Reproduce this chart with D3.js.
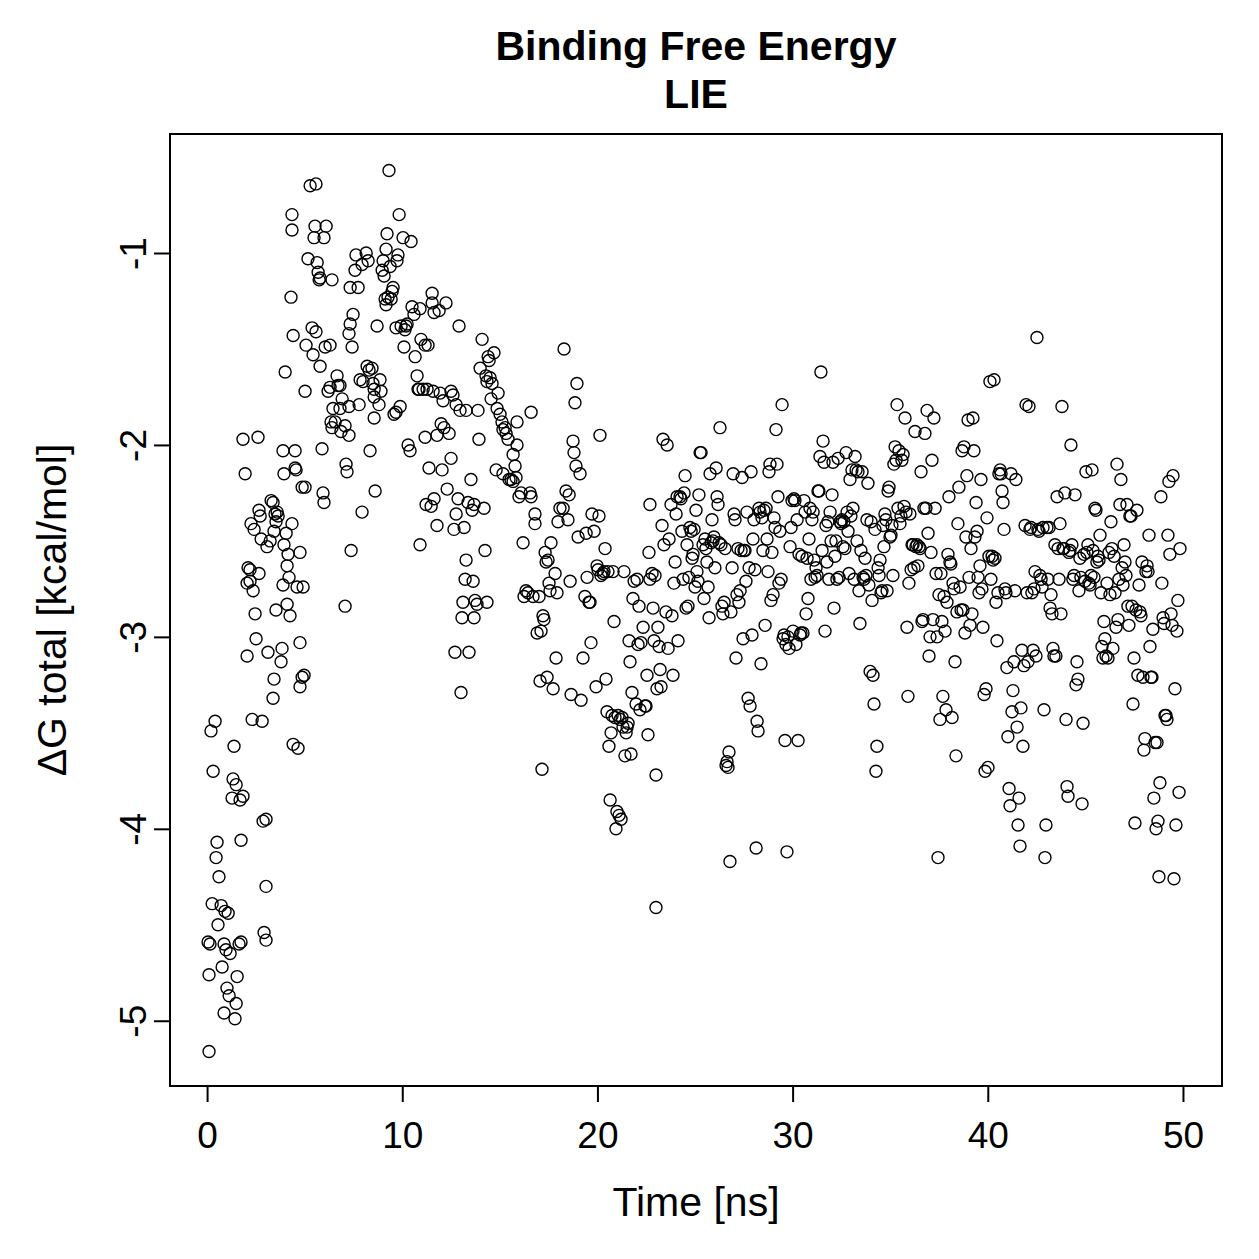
<!DOCTYPE html>
<html>
<head>
<meta charset="utf-8">
<script src="https://cdn.jsdelivr.net/npm/d3@7"></script>
<style>
  body { margin: 0; background: #fff; }
  svg { font-family: "Liberation Sans", Arial, sans-serif; }
</style>
</head>
<body>
<svg id="chart" width="1259" height="1259"></svg>
<script>
// time [ns], dG total [kcal/mol]
const start = [
  [0.05,-4.59],[0.10,-5.16],[0.10,-4.76],[0.15,-4.60],[0.20,-3.49],[0.26,-4.39],[0.31,-3.70],[0.41,-3.44],
  [0.46,-4.15],[0.51,-4.07],[0.56,-4.50],[0.61,-4.25],[0.72,-4.40],[0.77,-4.72],[0.87,-4.60],[0.87,-4.96],
  [0.92,-4.43],[0.97,-4.63],[1.02,-4.83],[1.08,-4.44],[1.13,-4.87],[1.18,-4.65],[1.28,-3.84],[1.33,-3.74],
  [1.38,-3.57],[1.43,-4.99],[1.49,-4.91],[1.49,-3.77],[1.54,-4.77],[1.64,-4.60],[1.69,-3.85],[1.74,-4.59],
  [1.74,-4.06],[1.84,-3.83],[1.84,-1.97],[1.95,-2.15],[2.05,-3.10],[2.05,-2.72],[2.10,-2.64],[2.20,-2.65],
  [2.20,-2.71],[2.25,-2.41],[2.31,-3.43],[2.36,-2.76],[2.41,-2.44],[2.46,-2.88],[2.51,-3.01],[2.61,-1.96],
  [2.66,-2.67],[2.66,-2.34],[2.72,-2.37],[2.77,-2.49],[2.82,-3.44],[2.87,-3.96],[2.92,-4.54],[3.02,-3.95],
  [3.02,-4.58],[3.02,-4.30],[3.07,-2.53],[3.12,-3.08],[3.23,-2.50],[3.28,-2.29],[3.38,-2.30],[3.38,-3.32],
  [3.43,-2.45],[3.43,-3.22],[3.48,-2.36],[3.53,-2.40],[3.53,-2.86],[3.59,-2.35],[3.64,-2.37],[3.79,-3.13],
  [3.84,-3.06],[3.89,-2.73],[3.89,-2.03],[3.94,-2.52],[3.94,-2.15],[4.00,-1.62],[4.05,-2.46],[4.10,-2.63],
  [4.10,-2.83],[4.15,-2.57],[4.20,-2.69],[4.25,-2.89],[4.30,-1.23],[4.35,-2.41],[4.35,-0.80],[4.35,-0.88],
  [4.41,-3.56],[4.41,-1.43],[4.51,-2.12],[4.51,-2.03],[4.56,-2.13],[4.61,-2.74],[4.66,-3.58],[4.76,-3.03],
  [4.76,-3.26],[4.76,-2.56],[4.87,-3.21],[4.87,-2.22],[4.92,-2.74],[4.97,-3.20]
];
const rise = [
  [5.02,-2.22],[5.02,-1.72],[5.07,-1.48],[5.17,-1.03],[5.28,-0.65],[5.38,-1.39],[5.43,-1.53],[5.48,-0.92],
  [5.53,-0.86],[5.58,-0.64],[5.58,-1.41],[5.64,-1.05],[5.69,-1.10],[5.74,-1.14],[5.79,-1.13],[5.79,-1.59],
  [5.89,-2.02],[5.94,-2.25],[5.99,-2.30],[5.99,-0.92],[6.05,-1.49],[6.10,-0.86],[6.20,-1.72],[6.30,-1.48],
  [6.30,-1.70],[6.35,-1.88],[6.40,-1.14],[6.40,-1.91],[6.45,-1.81],[6.56,-1.88],[6.66,-1.64],[6.71,-1.69],
  [6.81,-1.69],[6.81,-1.81],[6.86,-1.93],[6.92,-1.76],[7.07,-2.84],[7.07,-1.90],[7.12,-2.10],[7.17,-2.14],
  [7.27,-1.95],[7.27,-1.42],[7.27,-1.80],[7.33,-1.37],[7.33,-1.18],[7.38,-2.55],[7.43,-1.49],[7.48,-1.32],
  [7.58,-1.09],[7.63,-1.01],[7.74,-1.18],[7.79,-1.79],[7.84,-1.66],[7.94,-2.35],[7.94,-1.06],[7.99,-1.67],
  [8.15,-1.00],[8.20,-1.59],[8.25,-1.04],[8.30,-1.61],[8.35,-2.03],[8.45,-1.60],[8.50,-1.68],[8.56,-1.71],
  [8.56,-1.75],[8.56,-1.86],[8.61,-2.24],[8.71,-1.38],[8.81,-1.79],[8.86,-1.66],[8.91,-1.72],[8.97,-1.09],
  [9.02,-1.04],[9.07,-1.12],[9.12,-1.24],[9.17,-1.27],[9.17,-0.98],[9.22,-0.90],[9.27,-1.23],[9.32,-0.57],
  [9.38,-1.07],[9.43,-1.24],[9.48,-1.20],[9.53,-1.18],[9.58,-1.84],[9.68,-1.83],[9.68,-1.39],[9.73,-1.04],
  [9.78,-1.01],[9.84,-0.80],[9.89,-1.80],[9.94,-1.38],[10.04,-0.92],[10.09,-1.49],[10.14,-1.40],[10.19,-1.38],
  [10.25,-1.37],[10.30,-2.00],[10.40,-2.03],[10.45,-0.94],[10.50,-1.28],[10.60,-1.32],[10.66,-1.54],[10.76,-1.64],
  [10.81,-1.71],[10.86,-1.71],[10.91,-2.52],[10.91,-1.29],[10.96,-1.45],[11.07,-1.71],[11.17,-1.48],[11.17,-1.96],
  [11.22,-2.31],[11.27,-1.71],[11.32,-1.48],[11.37,-2.12],[11.48,-2.32],[11.53,-1.21],[11.53,-1.26],[11.58,-1.72],
  [11.63,-1.31],[11.63,-2.28],[11.78,-2.42],[11.78,-1.95],[11.89,-1.30],[11.94,-1.73],[11.99,-1.89],[12.04,-2.13],
  [12.09,-1.77],[12.14,-1.91],[12.24,-1.26],[12.30,-2.23],[12.40,-1.94],[12.50,-2.07],[12.50,-1.72],[12.60,-1.74],
  [12.65,-2.44],[12.70,-3.08],[12.76,-2.36],[12.76,-1.79],[12.86,-2.28],[12.91,-1.38],[12.96,-1.82],[13.01,-3.29],
  [13.06,-2.90],[13.11,-2.82],[13.17,-2.43],[13.22,-2.70],[13.27,-2.60],[13.27,-1.82],[13.37,-2.30],[13.42,-3.08],
  [13.52,-2.18],[13.58,-2.34],[13.63,-2.71],[13.68,-2.31],[13.68,-2.90],[13.73,-2.81],[13.83,-2.83],[13.88,-1.82],
  [13.93,-1.97],[13.99,-1.60],[14.09,-1.45],[14.19,-2.33],[14.24,-2.55],[14.29,-1.64],[14.34,-2.82],[14.34,-1.67],
  [14.40,-1.54],[14.45,-1.56],[14.50,-1.65],[14.55,-1.76],[14.60,-1.68],[14.70,-1.52],[14.81,-2.13],[14.86,-1.81],
  [14.91,-1.73],[15.01,-1.84],[15.11,-1.88],[15.16,-2.15],[15.16,-1.92],[15.27,-1.91],[15.32,-1.94],[15.42,-1.97],
  [15.47,-2.18],[15.57,-2.18],[15.68,-2.19],[15.68,-2.05],[15.78,-2.11],[15.83,-2.17],[15.88,-1.88],[15.88,-2.00],
  [15.98,-2.27],[16.09,-2.25],[16.19,-2.51],[16.24,-2.79],[16.34,-2.76],[16.44,-2.77],[16.55,-2.25],[16.60,-1.83],
  [16.60,-2.27],[16.70,-2.79],[16.80,-2.36],[16.80,-2.41],[16.91,-2.98],[17.01,-2.79],[17.06,-3.23],[17.11,-2.97],
  [17.16,-3.69],[17.21,-2.89],[17.26,-2.91],[17.32,-2.56],[17.37,-2.61],[17.42,-3.21],[17.47,-2.60],[17.52,-2.72],
  [17.57,-2.76],[17.62,-2.51],[17.73,-3.27],[17.83,-2.67],[17.88,-3.11],[17.93,-2.77],[17.98,-2.40],[18.08,-2.33],
  [18.24,-2.33],[18.29,-1.50],[18.39,-2.24],[18.49,-2.39],[18.55,-2.26],[18.60,-2.71],[18.65,-3.30],[18.75,-1.98],
  [18.80,-2.04],[18.85,-1.78],[18.90,-2.11],[18.95,-1.68],[19.01,-2.48],[19.11,-2.15],[19.16,-3.33],[19.26,-3.11],
  [19.36,-2.79],[19.42,-2.46],[19.47,-2.69],[19.57,-2.82],[19.62,-2.82],[19.67,-3.03],[19.72,-2.36],[19.83,-2.45],
  [19.93,-3.26],[19.98,-2.63]
];
const middle = [
  [20.03,-2.65],[20.08,-2.37],[20.13,-1.95],[20.18,-2.68],[20.29,-2.67],[20.34,-2.66],[20.39,-2.54],[20.44,-3.22],
  [20.49,-3.39],[20.54,-2.66],[20.59,-3.57],[20.65,-3.85],[20.70,-3.50],[20.75,-3.41],[20.80,-2.66],[20.85,-2.92],
  [20.90,-3.42],[20.95,-4.00],[21.00,-3.91],[21.06,-3.41],[21.11,-3.93],[21.16,-3.43],[21.21,-3.95],[21.26,-3.42],
  [21.31,-3.47],[21.36,-2.66],[21.41,-3.62],[21.47,-3.50],[21.52,-3.47],[21.57,-3.45],[21.62,-3.02],[21.67,-3.13],
  [21.72,-3.61],[21.77,-3.29],[21.82,-2.80],[21.88,-2.71],[21.98,-3.35],[22.03,-2.70],[22.08,-3.04],[22.13,-2.84],
  [22.18,-3.38],[22.23,-3.03],[22.34,-2.95],[22.44,-3.36],[22.49,-3.36],[22.54,-3.20],[22.59,-3.51],[22.64,-2.56],
  [22.69,-2.70],[22.69,-2.31],[22.80,-2.67],[22.85,-2.85],[22.90,-3.02],[22.95,-2.68],[23.00,-3.72],[23.00,-4.41],
  [23.05,-3.27],[23.10,-2.95],[23.16,-3.05],[23.21,-3.17],[23.26,-3.26],[23.31,-2.42],[23.36,-1.97],[23.41,-2.52],
  [23.51,-2.87],[23.57,-2.00],[23.62,-3.06],[23.67,-2.49],[23.77,-2.31],[23.82,-2.89],[23.87,-3.20],[23.92,-2.72],
  [23.98,-2.61],[24.03,-2.36],[24.08,-2.27],[24.13,-3.02],[24.23,-2.27],[24.28,-2.28],[24.33,-2.45],[24.39,-2.70],
  [24.44,-2.25],[24.49,-2.16],[24.54,-2.85],[24.59,-2.52],[24.64,-2.84],[24.69,-2.69],[24.74,-2.43],[24.80,-2.45],
  [24.85,-2.59],[24.90,-2.57],[24.95,-2.44],[25.00,-2.74],[25.05,-2.34],[25.10,-2.66],[25.15,-2.71],[25.20,-2.26],
  [25.26,-2.04],[25.31,-2.04],[25.41,-2.52],[25.46,-2.80],[25.51,-2.49],[25.56,-2.54],[25.61,-2.61],[25.67,-2.74],
  [25.72,-2.90],[25.77,-2.15],[25.82,-2.51],[25.87,-2.39],[25.92,-2.50],[25.97,-2.48],[26.02,-2.64],[26.08,-2.12],
  [26.13,-2.27],[26.18,-2.31],[26.23,-2.51],[26.28,-1.91],[26.33,-2.52],[26.38,-2.84],[26.43,-2.88],[26.49,-2.82],
  [26.54,-2.54],[26.59,-3.67],[26.64,-3.65],[26.69,-3.68],[26.74,-3.60],[26.79,-4.17],[26.84,-2.87],[26.90,-2.64],
  [26.95,-2.15],[27.00,-2.36],[27.05,-2.39],[27.10,-3.11],[27.15,-2.78],[27.20,-2.54],[27.25,-2.82],[27.31,-2.76],
  [27.36,-2.55],[27.41,-2.17],[27.46,-3.01],[27.51,-2.55],[27.56,-2.55],[27.61,-2.71],[27.66,-2.35],[27.72,-3.32],
  [27.77,-2.64],[27.82,-3.36],[27.87,-2.14],[27.92,-2.99],[27.97,-2.49],[28.02,-2.39],[28.07,-2.65],[28.13,-4.10],
  [28.18,-3.44],[28.23,-3.49],[28.28,-2.33],[28.33,-2.35],[28.38,-3.14],[28.43,-2.38],[28.48,-2.55],[28.53,-2.34],
  [28.59,-2.94],[28.64,-2.33],[28.69,-2.49],[28.74,-2.66],[28.79,-2.14],[28.84,-2.10],[28.89,-2.81],[28.94,-2.56],
  [29.00,-2.78],[29.05,-2.38],[29.10,-2.43],[29.15,-1.92],[29.20,-2.10],[29.25,-2.27],[29.30,-2.72],[29.35,-2.45],
  [29.41,-2.70],[29.46,-1.79],[29.51,-3.01],[29.56,-2.99],[29.61,-3.54],[29.66,-3.04],[29.71,-4.12],[29.76,-3.00],
  [29.82,-3.06],[29.87,-2.53],[29.92,-2.43],[29.97,-2.29],[30.02,-2.97],[30.07,-2.28],[30.12,-2.29],[30.17,-3.04],
  [30.23,-2.39],[30.28,-3.54],[30.33,-2.57],[30.38,-2.99],[30.43,-2.98],[30.48,-2.58],[30.53,-2.98],[30.58,-2.29],
  [30.64,-2.35],[30.69,-2.88],[30.74,-2.59],[30.79,-2.80],[30.84,-2.49],[30.89,-2.33],[30.94,-2.70],[30.99,-2.39],
  [31.05,-2.35],[31.10,-2.60],[31.15,-2.69],[31.20,-2.64],[31.25,-2.68],[31.30,-2.24],[31.35,-2.24],[31.40,-2.06],
  [31.45,-1.62],[31.51,-2.55],[31.56,-1.98],[31.61,-2.09],[31.66,-2.97],[31.71,-2.42],[31.76,-2.61],[31.81,-2.40],
  [31.86,-2.70],[31.92,-2.35],[31.97,-2.50],[32.02,-2.26],[32.07,-2.09],[32.12,-2.85],[32.17,-2.58],[32.22,-2.50],
  [32.27,-2.70],[32.33,-2.07],[32.38,-2.69],[32.43,-2.40],[32.48,-2.41],[32.53,-2.39],[32.58,-2.53],[32.63,-2.40],
  [32.68,-2.54],[32.74,-2.04],[32.79,-2.35],[32.84,-2.45],[32.89,-2.67],[32.94,-2.18],[32.99,-2.37],[33.04,-2.13],
  [33.09,-2.33],[33.15,-2.70],[33.20,-2.06],[33.25,-2.13],[33.30,-2.50],[33.35,-2.14],[33.40,-2.76],[33.45,-2.93],
  [33.50,-2.55],[33.56,-2.14],[33.61,-2.69],[33.66,-2.70],[33.71,-2.59],[33.76,-2.68],[33.81,-2.39],[33.86,-2.20],
  [33.91,-2.73],[33.97,-3.18],[34.02,-2.40],[34.07,-2.81],[34.12,-3.20],[34.17,-3.35],[34.22,-2.44],[34.27,-3.70],
  [34.32,-3.57],[34.38,-2.64],[34.43,-2.68],[34.48,-2.60],[34.53,-2.77],[34.58,-2.76],[34.63,-2.42],[34.68,-2.53],
  [34.73,-2.36],[34.78,-2.39],[34.84,-2.76],[34.89,-2.24],[34.94,-2.22],[34.99,-2.48]
];
const late = [
  [35.04,-2.47],[35.09,-2.42],[35.14,-2.68],[35.19,-2.10],[35.25,-2.01],[35.30,-2.08],[35.35,-1.79],[35.40,-2.33],
  [35.45,-2.03],[35.50,-2.41],[35.55,-2.37],[35.60,-2.08],[35.66,-2.05],[35.71,-2.32],[35.76,-1.86],[35.81,-2.35],
  [35.86,-2.95],[35.91,-3.31],[35.96,-2.72],[36.01,-2.36],[36.07,-2.65],[36.12,-2.52],[36.17,-2.52],[36.22,-2.64],
  [36.27,-1.93],[36.32,-2.53],[36.37,-2.52],[36.42,-2.63],[36.48,-2.53],[36.53,-2.54],[36.58,-2.14],[36.63,-2.92],
  [36.68,-2.91],[36.73,-2.33],[36.78,-1.94],[36.83,-2.33],[36.89,-1.82],[36.94,-2.46],[36.99,-3.10],[37.04,-3.00],
  [37.09,-2.56],[37.14,-2.08],[37.19,-2.91],[37.24,-1.86],[37.30,-2.33],[37.35,-2.67],[37.40,-3.00],[37.45,-4.15],
  [37.50,-2.78],[37.55,-3.43],[37.60,-2.67],[37.65,-2.92],[37.70,-3.31],[37.76,-2.79],[37.81,-2.97],[37.86,-3.38],
  [37.91,-2.82],[37.96,-2.57],[38.01,-2.27],[38.06,-2.61],[38.11,-2.62],[38.17,-3.42],[38.22,-2.72],[38.27,-2.75],
  [38.32,-3.13],[38.37,-3.62],[38.42,-2.87],[38.47,-2.41],[38.52,-2.22],[38.58,-2.74],[38.63,-2.86],[38.68,-2.03],
  [38.73,-2.86],[38.78,-2.01],[38.83,-2.98],[38.88,-2.48],[38.93,-2.16],[38.99,-1.87],[39.04,-2.69],[39.09,-2.94],
  [39.14,-2.54],[39.19,-2.88],[39.24,-1.86],[39.29,-2.03],[39.34,-2.48],[39.40,-2.30],[39.45,-2.45],[39.50,-2.69],
  [39.55,-2.77],[39.60,-2.63],[39.65,-2.18],[39.70,-2.75],[39.75,-2.95],[39.81,-3.30],[39.86,-3.70],[39.91,-3.27],
  [39.96,-2.38],[40.01,-3.68],[40.06,-2.58],[40.11,-1.67],[40.16,-2.70],[40.22,-2.58],[40.27,-2.60],[40.32,-1.66],
  [40.37,-2.59],[40.42,-2.82],[40.47,-3.02],[40.52,-2.77],[40.57,-2.15],[40.63,-2.13],[40.68,-2.15],[40.73,-2.24],
  [40.78,-2.30],[40.83,-2.44],[40.88,-2.75],[40.93,-2.77],[40.98,-3.16],[41.03,-3.52],[41.09,-3.79],[41.14,-3.88],
  [41.19,-2.15],[41.24,-3.39],[41.29,-3.28],[41.34,-3.13],[41.39,-2.76],[41.44,-2.18],[41.50,-3.47],[41.55,-3.98],
  [41.60,-3.84],[41.65,-4.09],[41.70,-3.37],[41.75,-3.07],[41.80,-3.57],[41.85,-3.15],[41.91,-2.42],[41.96,-1.79],
  [42.01,-2.77],[42.06,-3.13],[42.11,-1.80],[42.16,-2.44],[42.21,-2.43],[42.26,-2.77],[42.32,-3.07],[42.37,-2.75],
  [42.42,-2.66],[42.47,-3.10],[42.52,-1.44],[42.57,-2.44],[42.62,-2.45],[42.67,-2.68],[42.73,-2.70],[42.78,-2.74],
  [42.83,-2.43],[42.88,-3.38],[42.93,-4.15],[42.98,-3.98],[43.03,-2.43],[43.08,-2.70],[43.14,-2.43],[43.19,-2.85],
  [43.24,-2.78],[43.29,-2.88],[43.34,-3.06],[43.39,-3.10],[43.44,-2.52],[43.49,-3.10],[43.55,-2.27],[43.60,-2.54],
  [43.65,-2.70],[43.70,-2.41],[43.75,-2.88],[43.80,-1.80],[43.85,-2.54],[43.90,-2.54],[43.95,-2.25],[44.01,-3.43],
  [44.06,-3.78],[44.11,-3.83],[44.16,-2.56],[44.21,-2.55],[44.26,-2.00],[44.31,-2.52],[44.36,-2.70],[44.42,-2.68],
  [44.47,-2.26],[44.52,-3.25],[44.57,-3.13],[44.62,-3.22],[44.67,-2.76],[44.72,-2.59],[44.77,-2.69],[44.83,-3.87],
  [44.88,-3.45],[44.93,-2.57],[44.98,-2.71],[45.03,-2.14],[45.08,-2.56],[45.13,-2.52],[45.18,-2.72],[45.24,-2.73],
  [45.29,-2.68],[45.34,-2.13],[45.39,-2.55],[45.44,-2.69],[45.49,-2.33],[45.54,-2.34],[45.59,-2.61],[45.64,-2.58],
  [45.70,-2.60],[45.75,-2.47],[45.80,-2.77],[45.85,-3.05],[45.90,-3.11],[45.95,-2.92],[46.00,-3.01],[46.06,-3.10],
  [46.11,-2.72],[46.16,-3.11],[46.21,-2.56],[46.26,-2.78],[46.31,-2.40],[46.36,-2.54],[46.41,-3.06],[46.47,-2.58],
  [46.52,-2.77],[46.57,-2.95],[46.62,-2.10],[46.67,-2.91],[46.72,-2.70],[46.77,-2.31],[46.82,-2.18],[46.88,-2.64],
  [46.93,-2.73],[46.98,-2.52],[47.03,-2.61],[47.08,-2.68],[47.13,-2.31],[47.18,-2.84],[47.23,-2.94],[47.28,-2.37],
  [47.34,-2.37],[47.39,-2.84],[47.44,-3.35],[47.49,-3.11],[47.54,-3.97],[47.59,-2.86],[47.64,-2.34],[47.69,-3.20],
  [47.75,-2.73],[47.80,-2.87],[47.85,-2.89],[47.90,-2.61],[47.95,-3.21],[48.00,-3.59],[48.05,-3.53],[48.10,-2.66],
  [48.16,-2.63],[48.21,-2.66],[48.26,-2.47],[48.31,-3.05],[48.36,-3.21],[48.41,-3.21],[48.46,-2.96],[48.51,-3.84],
  [48.57,-3.55],[48.62,-4.00],[48.67,-3.55],[48.72,-3.96],[48.77,-4.25],[48.82,-3.76],[48.87,-2.27],[48.92,-2.72],
  [48.98,-2.90],[49.03,-2.93],[49.08,-3.41],[49.13,-3.41],[49.18,-3.43],[49.23,-2.47],[49.28,-2.19],[49.33,-2.57],
  [49.39,-2.88],[49.44,-2.94],[49.49,-2.16],[49.54,-4.26],[49.59,-3.27],[49.64,-3.98],[49.69,-2.97],[49.74,-2.81],
  [49.80,-3.81],[49.85,-2.54]
];
const xTicks = [0, 10, 20, 30, 40, 50];
const yTicks = [-5, -4, -3, -2, -1];
const titleLines = ["Binding Free Energy", "LIE"];

const points = [].concat(start, rise, middle, late);

const svg = d3.select("#chart");
const plotL = 170, plotR = 1222, plotT = 134, plotB = 1086;

const x = d3.scaleLinear().domain([-1.9, 52.0]).range([plotL, plotR]);
const y = d3.scaleLinear().domain([-5.34, -0.38]).range([plotB, plotT]);

// axes, R style: outside ticks, rotated y labels
const xAxis = svg.append("g")
  .attr("transform", `translate(0,${plotB})`)
  .call(d3.axisBottom(x).tickValues(xTicks).tickSize(16).tickPadding(20).tickFormat(d => String(d)));
xAxis.select(".domain").remove();
xAxis.selectAll("line").attr("stroke", "#000").attr("stroke-width", 2);
xAxis.selectAll("text").attr("font-size", 37).attr("fill", "#000").attr("font-family", "Liberation Sans, Arial, sans-serif");

const yAxis = svg.append("g")
  .attr("transform", `translate(${plotL},0)`)
  .call(d3.axisLeft(y).tickValues(yTicks).tickSize(16).tickFormat(d => String(d)));
yAxis.select(".domain").remove();
yAxis.selectAll("line").attr("stroke", "#000").attr("stroke-width", 2);
yAxis.selectAll("text")
  .attr("font-size", 37).attr("fill", "#000").attr("font-family", "Liberation Sans, Arial, sans-serif")
  .attr("x", 0).attr("y", -24).attr("dy", 0)
  .attr("text-anchor", "middle")
  .attr("transform", "rotate(-90)");

// box
svg.append("rect")
  .attr("x", plotL).attr("y", plotT)
  .attr("width", plotR - plotL).attr("height", plotB - plotT)
  .attr("fill", "none").attr("stroke", "#000").attr("stroke-width", 2);

// points
svg.append("g").selectAll("circle")
  .data(points)
  .join("circle")
  .attr("cx", d => x(d[0]))
  .attr("cy", d => y(d[1]))
  .attr("r", 6)
  .attr("fill", "none")
  .attr("stroke", "#000")
  .attr("stroke-width", 1.4);

// titles and labels
svg.append("g").selectAll("text")
  .data(titleLines)
  .join("text")
  .attr("x", (plotL + plotR) / 2)
  .attr("y", (d, i) => 60 + i * 48)
  .attr("text-anchor", "middle")
  .attr("font-size", 41)
  .attr("font-weight", "bold")
  .text(d => d);

svg.append("text")
  .attr("x", (plotL + plotR) / 2)
  .attr("y", 1216)
  .attr("text-anchor", "middle")
  .attr("font-size", 41)
  .text("Time [ns]");

svg.append("text")
  .attr("transform", `translate(66,${(plotT + plotB) / 2}) rotate(-90)`)
  .attr("text-anchor", "middle")
  .attr("font-size", 41)
  .text("ΔG total [kcal/mol]");
</script>
</body>
</html>
